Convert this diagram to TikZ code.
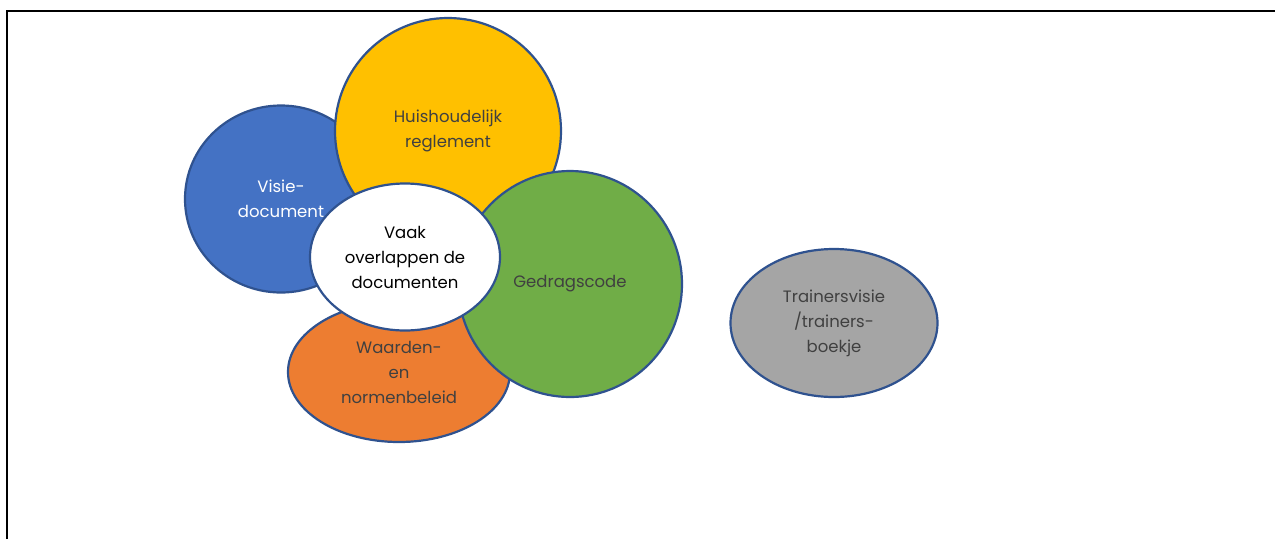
\documentclass[tikz,border=0pt]{standalone}
\usepackage{fontspec}
\setmainfont{Poppins}
\usetikzlibrary{shapes.geometric, positioning}

\definecolor{docblue}{HTML}{4472C4}
\definecolor{docyellow}{HTML}{FFC000}
\definecolor{docgreen}{HTML}{70AD47}
\definecolor{docorange}{HTML}{ED7D31}
\definecolor{docgray}{HTML}{A5A5A5}
\definecolor{docline}{HTML}{2F528F}
\definecolor{doctext}{HTML}{404040}

\tikzset{
  docblob/.style={ellipse, draw=docline, line width=2.2pt, inner sep=0pt,
    align=center, text=doctext, font=\fontsize{16.5}{25}\selectfont}
}

\begin{document}
\begin{tikzpicture}[x=1pt, y=-1pt]
		\useasboundingbox (0,0) rectangle (1275,539);
		\draw[line width=2.2pt] (7,539) -- (7,11) -- (1275,11);

		  % Nodes
		\node[docblob, fill=docblue, text=white, minimum width=192pt, minimum height=187pt] (visie) at (281,199) {Visie-\\document};
		  \node[docblob, fill=docyellow, minimum width=226pt, minimum height=226pt] (huis) at (448,131) {Huishoudelijk\\reglement};
		  \node[docblob, fill=docorange, minimum width=222pt, minimum height=140pt] (waarden) at (399,372) {Waarden-\\en\\normenbeleid};
		  \node[docblob, fill=docgreen, minimum width=224pt, minimum height=226pt] (gedrag) at (570,284) {Gedragscode};
		  \node[docblob, fill=white, text=black, minimum width=190pt, minimum height=147pt] (vaak) at (405,257) {Vaak\\overlappen de\\documenten};
		  \node[docblob, fill=docgray, minimum width=207pt, minimum height=148pt] (trainer) at (834,323) {Trainersvisie\\/trainers-\\boekje};
\end{tikzpicture}
\end{document}
